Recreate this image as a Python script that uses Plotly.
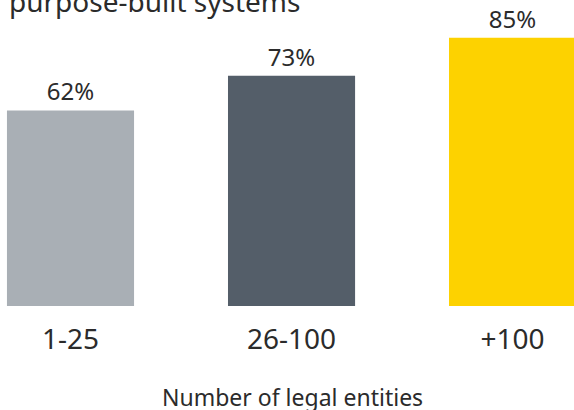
import plotly.graph_objects as go

categories = ["1-25", "26-100", "+100"]
values = [62, 73, 85]
labels = ["62%", "73%", "85%"]
colors = ["#A9AFB5", "#545E69", "#FDD200"]

FONT = "Noto Sans"
TXT = "#2b2b2b"

fig = go.Figure(go.Bar(
    x=categories, y=values, text=labels, textposition="outside",
    textfont=dict(family=FONT, size=24, color=TXT),
    marker=dict(color=colors, line=dict(width=0)),
    width=0.575, cliponaxis=False,
))

fig.update_layout(
    width=574, height=410,
    margin=dict(l=0, r=0, t=0, b=104),
    paper_bgcolor="white", plot_bgcolor="white",
    showlegend=False,
    font=dict(family=FONT, color=TXT),
    xaxis=dict(
        range=[-0.319, 2.278], showgrid=False, zeroline=False, showline=False,
        ticks="", ticklabelstandoff=14, tickfont=dict(family=FONT, size=28, color=TXT),
    ),
    yaxis=dict(range=[0, 97], visible=False),
    annotations=[
        dict(
            text="purpose-built systems", xref="paper", yref="paper",
            x=0.012, y=0.928, xanchor="left", yanchor="bottom", showarrow=False,
            font=dict(family=FONT, size=28, color=TXT),
        ),
        dict(
            text="Number of legal entities", xref="paper", yref="paper",
            x=0.509, y=-0.356, xanchor="center", yanchor="bottom", showarrow=False,
            font=dict(family=FONT, size=23, color=TXT),
        ),
    ],
)

fig.write_html("out.html", config={"displayModeBar": False},
               post_script="document.body.style.margin='0';document.body.style.overflow='hidden';")
